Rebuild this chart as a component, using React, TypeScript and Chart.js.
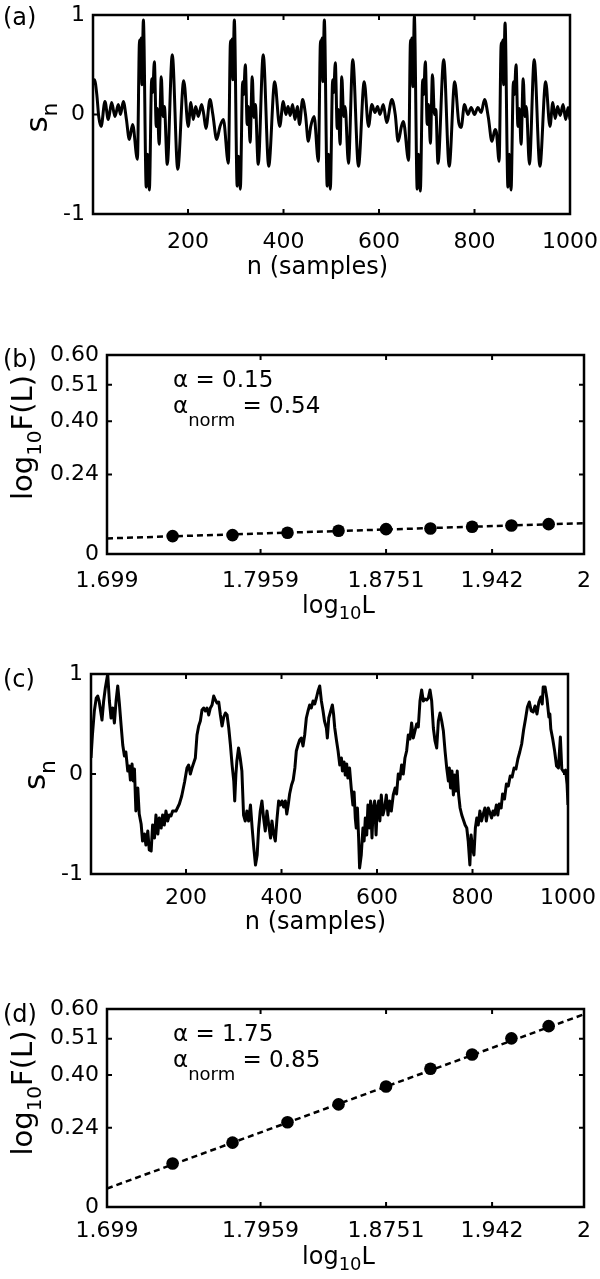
import React, { useEffect, useRef } from 'react';
import { Chart, registerables } from 'chart.js';

Chart.register(...registerables);

const FONT = '"DejaVu Sans", sans-serif';

// ---------- Panel (a): s_n vs n (turning points) ----------
const A_SEG1: number[][] = [
  [1, 0.30], [4, 0.35], [9, 0.20], [13, -0.02], [18, -0.12], [26, 0.13], [33, -0.05], [40, 0.12], [47, -0.02],
  [54, 0.10], [58.5, 0.0], [64.5, 0.13], [71, -0.05], [77, -0.25], [84, -0.10], [94, -0.45],
  [98.5, 0.75], [100, 0.42], [101.5, 0.77], [103.5, 0.30], [106.5, 0.95], [112.5, -0.73], [115.5, -0.40],
  [119, -0.76], [124, 0.36], [126, 0.22], [129.5, 0.53], [133.5, -0.12], [136, 0.06], [139.5, -0.30],
  [144, 0.38], [147.5, -0.02], [150.5, 0.08], [156.5, -0.50], [167, 0.60], [178.5, -0.55], [191, 0.34],
];
const A_SEG2: number[][] = [
  [200.5, -0.12], [206, 0.12], [211, -0.05], [216, 0.08], [221.5, -0.02], [228.5, 0.10], [233, 0.0],
  [237.5, -0.14], [246, 0.15], [252, 0.0], [260, -0.25], [267, -0.12], [274, -0.05], [284.5, -0.49],
  [289, 0.74], [290.5, 0.40], [292, 0.76], [294, 0.35], [297, 0.95], [303, -0.72], [306, -0.42],
  [309.5, -0.75], [314.5, 0.33], [316.5, 0.20], [320, 0.50], [324, -0.10], [326.5, 0.08], [330, -0.28],
  [334.5, 0.38], [338, -0.03], [341, 0.10], [347, -0.50], [357.5, 0.60], [369, -0.52], [381.5, 0.33],
];
const A_SEG3: number[][] = [
  [392, -0.12], [399.5, 0.13], [405, 0.0], [409.5, 0.08], [414, -0.01], [419, 0.10], [424, -0.05],
  [429, 0.08], [433.5, -0.10], [440, 0.15], [446, 0.0], [452, -0.27], [457, -0.12], [464, -0.02], [473, -0.47],
  [477.5, 0.74], [479, 0.40], [480.5, 0.77], [482.5, 0.33], [485.5, 0.95], [491.5, -0.72], [494.5, -0.40],
  [498, -0.75], [503, 0.35], [505, 0.22], [508.5, 0.52], [512.5, -0.14], [515, 0.05], [518.5, -0.30],
  [522, 0.38], [526, -0.02], [529, 0.08], [536, -0.49], [545, 0.55], [557, -0.52], [569, 0.33],
];
const A_SEG4: number[][] = [
  [578, -0.12], [585, 0.10], [591.5, 0.02], [597, 0.08], [602, 0.0], [609, 0.10], [616, -0.08], [627, 0.15],
  [634, 0.0], [640, -0.27], [647, -0.12], [651, -0.07], [662, -0.46],
  [666, 0.75], [667.5, 0.35], [669, 0.77], [671, 0.28], [674, 0.99], [680, -0.75], [683, -0.40],
  [686.5, -0.77], [691.5, 0.35], [693.5, 0.20], [697, 0.53], [701, -0.10], [704, 0.10], [707.5, -0.29],
  [712, 0.40], [716, 0.0], [719, 0.05], [723.5, -0.49], [735.5, 0.55], [747, -0.52], [758.5, 0.33],
];
const A_SEG5: number[][] = [
  [767, -0.08], [772, -0.13], [779, 0.10], [786, 0.0], [793, 0.07], [800, 0.0], [807, 0.07], [814, 0.02],
  [821, 0.15], [829, -0.03], [836.5, -0.27], [843, -0.15], [846, -0.18], [851.5, -0.47],
  [856, 0.72], [857.5, 0.40], [859, 0.75], [861, 0.30], [864, 0.92], [870, -0.73], [873, -0.40],
  [876.5, -0.76], [881.5, 0.33], [883.5, 0.20], [887, 0.50], [891, -0.12], [894, 0.06], [897.5, -0.30],
  [902, 0.36], [905.5, -0.02], [908.5, 0.08], [915, -0.50], [925, 0.55], [937, -0.52], [949, 0.33],
  [958, -0.12], [964, 0.12], [969, -0.04], [974, 0.08], [979.5, -0.01], [985.5, 0.10], [991, -0.05],
  [996, 0.07], [1000, -0.05],
];

// ---------- Panel (c): s_n vs n ----------
const C_SEG1: number[][] = [
  [1, 0.16], [4, 0.39], [8, 0.63], [12, 0.76], [15, 0.78], [18, 0.73], [24, 0.54], [27.5, 0.73], [31, 0.86],
  [36, 1.0], [39.5, 0.73], [43, 0.56], [46.5, 0.66], [50, 0.51], [53.5, 0.73], [57, 0.88], [60.5, 0.70],
  [64, 0.49], [67.5, 0.29], [71, 0.18], [74, 0.22], [78, 0.03], [81, 0.08], [83.5, -0.06], [87, 0.10],
  [89.5, -0.07], [92, 0.05], [95, -0.37], [99, -0.14], [102, -0.40], [106, -0.50], [109, -0.67], [113, -0.60],
  [116, -0.71], [120, -0.57], [123, -0.76], [127, -0.77], [130, -0.51], [134, -0.64], [137, -0.41], [141, -0.60],
  [144, -0.44], [148, -0.54], [151, -0.41], [154.5, -0.51], [158, -0.37], [161.5, -0.47], [165, -0.41],
  [168.5, -0.42], [172, -0.37], [179, -0.37], [186, -0.30], [191, -0.22], [197, -0.08],
];
const C_SEG2: number[][] = [
  [202, 0.06], [205.5, 0.09], [209, 0.0], [212.5, 0.06], [216, 0.11], [219.5, 0.16], [223, 0.39], [226.5, 0.48],
  [230, 0.53], [233.5, 0.64], [237, 0.66], [240.5, 0.63], [244, 0.66], [247.5, 0.59], [251, 0.66], [254.5, 0.69],
  [258, 0.78], [261.5, 0.74], [265, 0.71], [268.5, 0.72], [272, 0.59], [275.5, 0.48], [279, 0.57], [282.5, 0.61],
  [286, 0.59], [289.5, 0.46], [293, 0.29], [296.5, 0.09], [300, -0.07], [302, -0.27], [304.5, 0.0], [306.5, 0.13],
  [310, 0.26], [313.5, 0.16], [317, 0.03], [320.5, -0.41], [324, -0.47], [327.5, -0.37], [331, -0.47],
  [335, -0.31], [338.5, -0.54], [342, -0.74], [345.5, -0.91], [349, -0.81], [352, -0.55], [355.5, -0.37],
  [359, -0.27], [362.5, -0.44], [366, -0.57], [369.5, -0.37], [373, -0.50], [377, -0.64], [380, -0.47],
  [383.5, -0.60], [387, -0.67], [390.5, -0.45], [394, -0.27], [397.5, -0.31], [401, -0.27], [404.5, -0.33],
  [408, -0.27], [411, -0.40], [414, -0.31], [417, -0.20],
];
const C_SEG3: number[][] = [
  [421, -0.11], [424.5, -0.06], [428, 0.06], [431, 0.23], [434.5, 0.29], [438, 0.34], [441.5, 0.36], [445, 0.28],
  [448.5, 0.39], [452, 0.56], [455.5, 0.63], [459, 0.69], [462.5, 0.66], [466, 0.73], [469.5, 0.70], [473, 0.76],
  [476.5, 0.83], [480, 0.88], [483.5, 0.73], [487, 0.63], [490, 0.53], [494, 0.46], [496, 0.36], [499, 0.56],
  [503, 0.63], [506.5, 0.69], [509, 0.60], [511.5, 0.46], [515, 0.34], [518.5, 0.23], [522, 0.09], [525.5, 0.16],
  [527.5, 0.03], [531, 0.12], [533.5, -0.01], [536.5, 0.10], [539, -0.04], [542.5, 0.06], [546, -0.14],
  [549.5, -0.31], [552, -0.18], [554.5, -0.44], [556.5, -0.54], [559, -0.34], [561.5, -0.64], [563.5, -0.94],
  [567, -0.81], [570.5, -0.54], [573, -0.67], [575.5, -0.44], [578.5, -0.61], [581, -0.31], [584, -0.54],
  [586.5, -0.27], [589.5, -0.64], [592, -0.34], [595, -0.27], [598, -0.61], [600.5, -0.34], [603.5, -0.27],
  [606, -0.47], [609, -0.21], [612.5, -0.41], [616, -0.34], [619.5, -0.21], [623, -0.41], [626.5, -0.27],
  [630, -0.37], [634, -0.21], [638, -0.14], [641, -0.20], [644.5, 0.0],
];
const C_SEG4: number[][] = [
  [648, -0.05], [651.5, 0.09], [655, 0.0], [658.5, 0.16], [662, 0.23], [665.5, 0.39], [669, 0.35], [672.5, 0.51],
  [676, 0.36], [679.5, 0.43], [683, 0.50], [686.5, 0.47], [690, 0.73], [693.5, 0.84], [697, 0.73], [700.5, 0.75],
  [704, 0.74], [707.5, 0.76], [711, 0.84], [714.5, 0.73], [718, 0.46], [721.5, 0.33], [725, 0.26], [728.5, 0.53],
  [732, 0.61], [735.5, 0.53], [739, 0.43], [742.5, 0.23], [746, 0.06], [749.5, -0.07], [751.5, 0.06],
  [754, -0.14], [757, 0.03], [760, -0.21], [762.5, -0.01], [765.5, -0.17], [768, 0.03], [771, -0.21],
  [774, -0.34], [777.5, -0.41], [781, -0.46], [784.5, -0.51], [788, -0.54], [791, -0.67], [794.5, -0.91],
  [797, -0.61], [800, -0.74], [803, -0.81], [806, -0.54], [809, -0.44], [812, -0.51], [815.5, -0.37],
  [819, -0.47], [822, -0.41], [826, -0.34], [829, -0.47], [833, -0.34], [836, -0.38], [840, -0.44],
  [843, -0.37], [846, -0.41], [850, -0.31], [853, -0.41],
];
const C_SEG5: number[][] = [
  [856, -0.30], [860, -0.34], [863, -0.20], [867, -0.25], [871, -0.10], [875, -0.12], [879, -0.02], [883, -0.03],
  [887, 0.06], [891, 0.05], [895, 0.15], [899, 0.22], [903, 0.30], [907, 0.44], [911, 0.55], [915, 0.67],
  [919, 0.72], [923, 0.63], [927, 0.62], [931, 0.68], [935, 0.60], [939, 0.72], [943, 0.77], [946, 0.70],
  [948, 0.87], [952, 0.87], [956, 0.75], [960, 0.57], [962, 0.60], [964, 0.45], [968, 0.35], [972, 0.23],
  [976, 0.08], [980, 0.06], [984, 0.37], [987, 0.05], [991, 0.02], [995, 0.04], [998, -0.10], [1000, -0.31],
];

const SAMPLE_TICKS = [200, 400, 600, 800, 1000];
const SAMPLE_TICK_LABELS = ['200', '400', '600', '800', '1000'];
const S_TICKS = [-1, 0, 1];
const S_TICK_LABELS = ['-1', '0', '1'];

// ---------- Panels (b) and (d): log10 F(L) vs log10 L ----------
const LOG_L = [1.7404, 1.7782, 1.8129, 1.8451, 1.8751, 1.9031, 1.9294, 1.9542, 1.9777];
const LOG_F_B = [0.054, 0.057, 0.064, 0.070, 0.075, 0.077, 0.082, 0.086, 0.090];
const LOG_F_D = [0.132, 0.195, 0.257, 0.311, 0.365, 0.419, 0.462, 0.511, 0.548];
const FIT_X = [1.699, 2];
const FIT_B = [0.047, 0.093];
const FIT_D = [0.056, 0.584];
const LOGL_TICKS = [1.699, 1.7959, 1.8751, 1.942, 2];
const LOGL_TICK_LABELS = ['1.699', '1.7959', '1.8751', '1.942', '2'];
const LOGF_TICKS = [0, 0.24, 0.40, 0.51, 0.60];
const LOGF_TICK_LABELS = ['0', '0.24', '0.40', '0.51', '0.60'];

type Part = { t: string; size: number; dy?: number };

function partsWidth(ctx: CanvasRenderingContext2D, parts: Part[]) {
  let w = 0;
  for (const p of parts) {
    ctx.font = `${p.size}px ${FONT}`;
    w += ctx.measureText(p.t).width;
  }
  return w;
}

function drawParts(ctx: CanvasRenderingContext2D, parts: Part[], x: number, y: number, align: 'left' | 'center') {
  const w = partsWidth(ctx, parts);
  let cx = align === 'center' ? x - w / 2 : x;
  ctx.textAlign = 'left';
  ctx.textBaseline = 'alphabetic';
  for (const p of parts) {
    ctx.font = `${p.size}px ${FONT}`;
    ctx.fillText(p.t, cx, y + (p.dy || 0));
    cx += ctx.measureText(p.t).width;
  }
}

const matlabPlugin = {
  id: 'matlab',
  afterDraw(chart: any, _args: any, opts: any) {
    const ctx: CanvasRenderingContext2D = chart.ctx;
    const a = chart.chartArea;
    const xs = chart.scales.x;
    const ys = chart.scales.y;
    ctx.save();
    ctx.strokeStyle = '#000';
    ctx.fillStyle = '#000';
    ctx.lineWidth = 2.5;
    ctx.strokeRect(a.left, a.top, a.right - a.left, a.bottom - a.top);
    ctx.lineWidth = 2;
    const TL = 5;
    ctx.beginPath();
    for (const v of opts.xTicks) {
      const px = xs.getPixelForValue(v);
      if (px <= a.left + 1 || px >= a.right - 1) continue;
      ctx.moveTo(px, a.bottom); ctx.lineTo(px, a.bottom - TL);
      ctx.moveTo(px, a.top); ctx.lineTo(px, a.top + TL);
    }
    for (const v of opts.yTicks) {
      const py = ys.getPixelForValue(v);
      if (py <= a.top + 1 || py >= a.bottom - 1) continue;
      ctx.moveTo(a.left, py); ctx.lineTo(a.left + TL, py);
      ctx.moveTo(a.right, py); ctx.lineTo(a.right - TL, py);
    }
    ctx.stroke();

    // panel letter
    drawParts(ctx, [{ t: opts.letter.text, size: 24 }], 3, a.top + opts.letter.dy, 'left');
    // x label
    drawParts(ctx, opts.xLabel.parts, (a.left + a.right) / 2 + opts.xLabel.dx, a.bottom + opts.xLabel.dy, 'center');
    // y label (rotated)
    ctx.save();
    ctx.translate(a.left + opts.yLabel.dx, (a.top + a.bottom) / 2 + opts.yLabel.dy);
    ctx.rotate(-Math.PI / 2);
    drawParts(ctx, opts.yLabel.parts, 0, 0, 'center');
    ctx.restore();
    // notes
    for (const n of opts.notes || []) {
      drawParts(ctx, n.parts, a.left + n.dx, a.top + n.dy, 'left');
    }
    ctx.restore();
  },
};

function scaleCfg(min: number, max: number, ticks: number[], labels: string[], pad: number, horizontal: boolean) {
  return {
    type: 'linear',
    min,
    max,
    grid: { display: false, drawTicks: false },
    border: { display: false },
    afterBuildTicks: (s: any) => {
      s.ticks = ticks.map((v) => ({ value: v }));
    },
    afterFit: (s: any) => {
      if (horizontal) {
        s.height = 40;
        s.paddingLeft = 0;
        s.paddingRight = 0;
      } else {
        s.width = 60;
        s.paddingTop = 0;
        s.paddingBottom = 0;
      }
    },
    ticks: {
      autoSkip: false,
      maxRotation: 0,
      minRotation: 0,
      padding: pad,
      color: '#000',
      font: { family: FONT, size: 22 },
      callback: (_v: any, i: number) => labels[i],
    },
  };
}

function toPts(segs: number[][][]) {
  const out: { x: number; y: number }[] = [];
  for (const s of segs) for (const p of s) out.push({ x: p[0], y: p[1] });
  return out;
}

function seriesConfig(segs: number[][][], smooth: boolean, padding: any, xPad: number, matlab: any) {
  return {
    type: 'line',
    data: {
      datasets: [
        {
          data: toPts(segs),
          borderColor: '#000',
          borderWidth: 3,
          borderJoinStyle: 'round',
          pointRadius: 0,
          fill: false,
          tension: smooth ? 0.4 : 0,
          cubicInterpolationMode: smooth ? 'monotone' : 'default',
        },
      ],
    },
    options: {
      responsive: false,
      animation: false,
      layout: { padding },
      plugins: { legend: { display: false }, tooltip: { enabled: false }, matlab },
      scales: {
        x: scaleCfg(1, 1000, SAMPLE_TICKS, SAMPLE_TICK_LABELS, xPad, true),
        y: scaleCfg(-1, 1, S_TICKS, S_TICK_LABELS, 8, false),
      },
    },
    plugins: [matlabPlugin],
  };
}

function dfaConfig(fy: number[], fitY: number[], padding: any, xPad: number, matlab: any) {
  return {
    type: 'line',
    data: {
      datasets: [
        {
          data: FIT_X.map((x, i) => ({ x, y: fitY[i] })),
          borderColor: '#000',
          borderWidth: 2.5,
          borderDash: [6, 4],
          pointRadius: 0,
          fill: false,
        },
        {
          data: LOG_L.map((x, i) => ({ x, y: fy[i] })),
          showLine: false,
          pointRadius: 6.3,
          pointBackgroundColor: '#000',
          pointBorderColor: '#000',
          pointBorderWidth: 0,
        },
      ],
    },
    options: {
      responsive: false,
      animation: false,
      layout: { padding },
      plugins: { legend: { display: false }, tooltip: { enabled: false }, matlab },
      scales: {
        x: scaleCfg(1.699, 2, LOGL_TICKS, LOGL_TICK_LABELS, xPad, true),
        y: scaleCfg(0, 0.6, LOGF_TICKS, LOGF_TICK_LABELS, 8, false),
      },
    },
    plugins: [matlabPlugin],
  };
}

const SN_LABEL: Part[] = [{ t: 's', size: 31 }, { t: 'n', size: 22, dy: 10 }];
const LOGF_LABEL: Part[] = [{ t: 'log', size: 29 }, { t: '10', size: 20, dy: 9 }, { t: 'F(L)', size: 29 }];
const SAMPLES_LABEL: Part[] = [{ t: 'n (samples)', size: 24 }];
const LOGL_LABEL: Part[] = [{ t: 'log', size: 24 }, { t: '10', size: 18, dy: 6 }, { t: 'L', size: 24 }];

function notes(alpha: string, alphaNorm: string) {
  return [
    { dx: 66, dy: 32, parts: [{ t: 'α = ' + alpha, size: 23 }] },
    { dx: 66, dy: 58, parts: [{ t: 'α', size: 23 }, { t: 'norm', size: 18, dy: 13 }, { t: ' = ' + alphaNorm, size: 23 }] },
  ];
}

function Panel({ top, height, config }: { top: number; height: number; config: any }) {
  const ref = useRef<HTMLCanvasElement | null>(null);
  useEffect(() => {
    if (!ref.current) return;
    const chart = new Chart(ref.current, config);
    return () => chart.destroy();
  }, []);
  return (
    <canvas
      ref={ref}
      width={600}
      height={height}
      style={{ position: 'absolute', left: 0, top, width: 600, height }}
    />
  );
}

export default function App() {
  const cfgA = seriesConfig(
    [A_SEG1, A_SEG2, A_SEG3, A_SEG4, A_SEG5],
    true,
    { top: 15, left: 33, right: 30, bottom: 46 },
    15,
    {
      xTicks: SAMPLE_TICKS, yTicks: S_TICKS,
      letter: { text: '(a)', dy: 10 },
      xLabel: { parts: SAMPLES_LABEL, dx: -14, dy: 60 },
      yLabel: { parts: SN_LABEL, dx: -46, dy: 3 },
    }
  );
  const cfgB = dfaConfig(LOG_F_B, FIT_B, { top: 55, left: 47, right: 16, bottom: 26 }, 14, {
    xTicks: LOGL_TICKS, yTicks: LOGF_TICKS,
    letter: { text: '(b)', dy: 12 },
    xLabel: { parts: LOGL_LABEL, dx: -7, dy: 59 },
    yLabel: { parts: LOGF_LABEL, dx: -75, dy: -17 },
    notes: notes('0.15', '0.54'),
  });
  const cfgC = seriesConfig(
    [C_SEG1, C_SEG2, C_SEG3, C_SEG4, C_SEG5],
    false,
    { top: 54, left: 31, right: 32, bottom: 26 },
    11,
    {
      xTicks: SAMPLE_TICKS, yTicks: S_TICKS,
      letter: { text: '(c)', dy: 13 },
      xLabel: { parts: SAMPLES_LABEL, dx: -14, dy: 55 },
      yLabel: { parts: SN_LABEL, dx: -46, dy: 1 },
    }
  );
  const cfgD = dfaConfig(LOG_F_D, FIT_D, { top: 69, left: 47, right: 16, bottom: 32 }, 11, {
    xTicks: LOGL_TICKS, yTicks: LOGF_TICKS,
    letter: { text: '(d)', dy: 13 },
    xLabel: { parts: LOGL_LABEL, dx: -7, dy: 57 },
    yLabel: { parts: LOGF_LABEL, dx: -75, dy: -15 },
    notes: notes('1.75', '0.85'),
  });
  return (
    <div style={{ position: 'absolute', left: 0, top: 0, width: 600, height: 1279, background: '#fff' }}>
      <Panel top={0} height={300} config={cfgA} />
      <Panel top={300} height={320} config={cfgB} />
      <Panel top={620} height={320} config={cfgC} />
      <Panel top={940} height={339} config={cfgD} />
    </div>
  );
}
